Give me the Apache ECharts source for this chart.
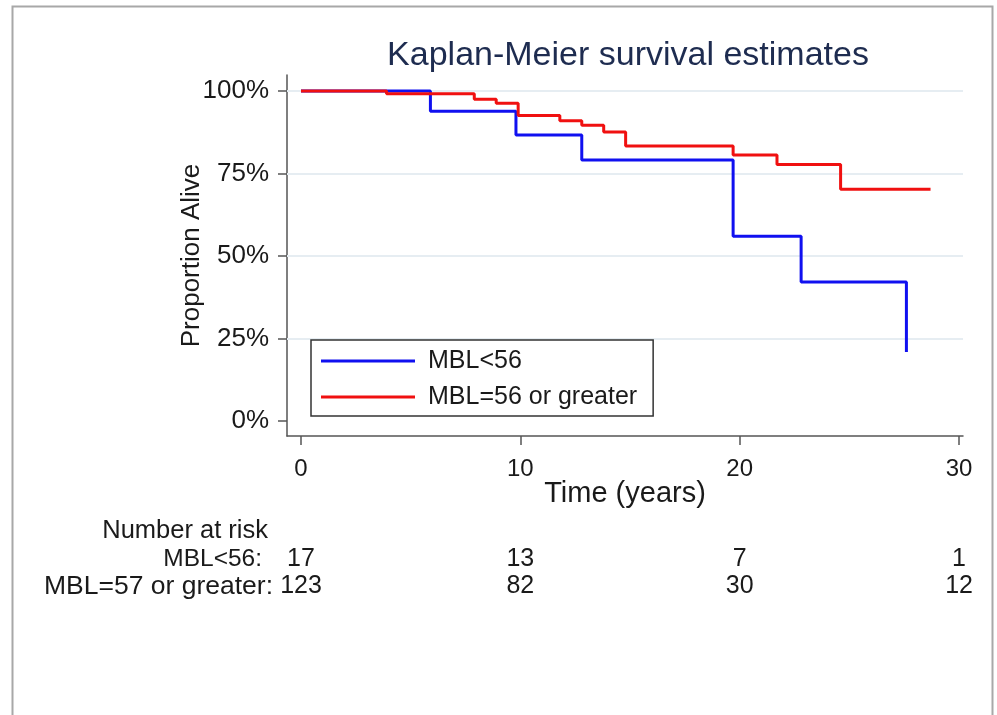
<!DOCTYPE html>
<html>
<head>
<meta charset="utf-8">
<script src="https://cdn.jsdelivr.net/npm/echarts@6/dist/echarts.min.js"></script>
<style>html,body{margin:0;padding:0;background:#fff}#c{width:997px;height:715px}</style>
</head>
<body>
<div id="c"></div>
<script>
// ---- data ----
const seriesNames = ['MBL<56', 'MBL=56 or greater'];
// step points: [time, survival from that time on]
const lowTimes  = [0, 5.9, 9.8, 12.8, 19.7, 22.8, 27.6];
const lowSurv   = [1.0, 0.939, 0.867, 0.791, 0.560, 0.421, 0.209];
const highTimes = [0, 3.9, 7.9, 8.9, 9.9, 11.8, 12.8, 13.8, 14.8, 19.7, 21.7, 24.6, 28.7];
const highSurv  = [1.0, 0.992, 0.975, 0.963, 0.926, 0.910, 0.896, 0.876, 0.833, 0.806, 0.777, 0.702, 0.702];
const xTicks = [0, 10, 20, 30];
const yTicks = [0, 0.25, 0.5, 0.75, 1];
const gridValues = [0.25, 0.5, 0.75, 1];
const riskRows = ['MBL<56:', 'MBL=57 or greater:'];
const riskTimes = [0, 10, 20, 30];
const riskLow  = [17, 13, 7, 1];
const riskHigh = [123, 82, 30, 12];
const titleText = 'Kaplan-Meier survival estimates';
const riskHeader = 'Number at risk';

const FONT = '"Liberation Sans", Arial, sans-serif';
const TXT = '#1a1a1a';

const zip = (a, b) => a.map((v, i) => [v, b[i]]);
const riskData = [];
riskTimes.forEach((t, i) => {
  riskData.push([t, 0, riskLow[i]]);
  riskData.push([t, 1, riskHigh[i]]);
});

const chart = echarts.init(document.getElementById('c'), null, {renderer: 'canvas'});
chart.setOption({
  animation: false,
  backgroundColor: '#fff',
  textStyle: {fontFamily: FONT},
  title: {
    text: titleText, left: 623, top: 34, textAlign: 'center',
    textStyle: {fontFamily: FONT, fontSize: 34, fontWeight: 'normal', color: '#1e2c50'}
  },
  graphic: [
    {type: 'rect', z: -10, silent: true,
     shape: {x: 12.5, y: 6.5, width: 980, height: 730},
     style: {fill: 'none', stroke: '#a8a8a8', lineWidth: 2}},
    {type: 'text', x: 268, y: 531, silent: true,
     style: {text: riskHeader, fill: TXT, font: '25.5px ' + FONT, textAlign: 'right', textVerticalAlign: 'middle'}}
  ],
  legend: {
    orient: 'vertical', left: 311, top: 340,
    data: seriesNames,
    icon: 'rect',
    borderColor: '#333', borderWidth: 1.5, borderRadius: 0,
    padding: [6, 16, 4, 10],
    itemWidth: 94, itemHeight: 3, itemGap: 6,
    textStyle: {fontFamily: FONT, fontSize: 25, color: TXT, lineHeight: 30, padding: [0, 0, 0, 8]}
  },
  grid: [
    {left: 287, right: 34, top: 75, bottom: 279, containLabel: false},
    {left: 287, right: 34, top: 546, height: 54, containLabel: false}
  ],
  xAxis: [
    {type: 'value', gridIndex: 0, min: -0.638, max: 30.18,
     name: 'Time (years)', nameLocation: 'middle', nameGap: 43, nameMoveOverlap: false,
     nameTextStyle: {fontFamily: FONT, fontSize: 29, color: TXT},
     axisLine: {show: true, onZero: false, lineStyle: {color: '#555', width: 1.5}},
     axisTick: {show: true, length: 9, customValues: xTicks, lineStyle: {color: '#555', width: 1.5}},
     axisLabel: {customValues: xTicks, fontSize: 24, color: TXT, margin: 21, fontFamily: FONT},
     splitLine: {show: false}},
    {type: 'value', gridIndex: 1, min: -0.638, max: 30.18, show: false}
  ],
  yAxis: [
    {type: 'value', gridIndex: 0, min: -0.04545, max: 1.0485,
     name: 'Proportion Alive', nameLocation: 'middle', nameGap: 82, nameRotate: 90, nameMoveOverlap: false,
     nameTextStyle: {fontFamily: FONT, fontSize: 26, color: TXT},
     axisLine: {show: true, onZero: false, lineStyle: {color: '#555', width: 1.5}},
     axisTick: {show: true, length: 9, customValues: yTicks, lineStyle: {color: '#555', width: 1.5}},
     axisLabel: {customValues: yTicks, fontSize: 26, color: TXT, margin: 18, fontFamily: FONT,
                 formatter: v => Math.round(v * 100) + '%'},
     splitLine: {show: false}},
    {type: 'category', gridIndex: 1, data: riskRows, inverse: true,
     axisLine: {show: false}, axisTick: {show: false}, splitLine: {show: false},
     axisLabel: {interval: 0, fontSize: 25, color: TXT, margin: 14, fontFamily: FONT,
                 formatter: v => v === riskRows[0] ? '{p|' + v + '}' : '{q|' + v + '}',
                 rich: {p: {fontSize: 24.5, color: TXT, fontFamily: FONT, padding: [0, 11, 0, 0]},
                        q: {fontSize: 26.5, color: TXT, fontFamily: FONT}}}}
  ],
  series: [
    {name: seriesNames[0], type: 'line', step: 'end', xAxisIndex: 0, yAxisIndex: 0,
     data: zip(lowTimes, lowSurv), symbol: 'none', z: 3,
     lineStyle: {color: '#1010f0', width: 3}, itemStyle: {color: '#1010f0'},
     markLine: {silent: true, symbol: 'none', label: {show: false}, animation: false, z: 1,
       lineStyle: {color: '#e6edf2', width: 1.8, type: 'solid'},
       data: gridValues.map(v => ({yAxis: v}))}},
    {name: seriesNames[1], type: 'line', step: 'end', xAxisIndex: 0, yAxisIndex: 0,
     data: zip(highTimes, highSurv), symbol: 'none', z: 4,
     lineStyle: {color: '#f01010', width: 3}, itemStyle: {color: '#f01010'}},
    {name: 'risk', type: 'scatter', xAxisIndex: 1, yAxisIndex: 1,
     data: riskData, symbolSize: 2, itemStyle: {color: 'rgba(0,0,0,0)'}, silent: true,
     label: {show: true, position: 'inside', formatter: p => String(p.value[2]),
             fontSize: 25, color: TXT, fontFamily: FONT,
             textBorderWidth: 0, textBorderColor: 'transparent', opacity: 1}}
  ]
});
</script>
</body>
</html>
